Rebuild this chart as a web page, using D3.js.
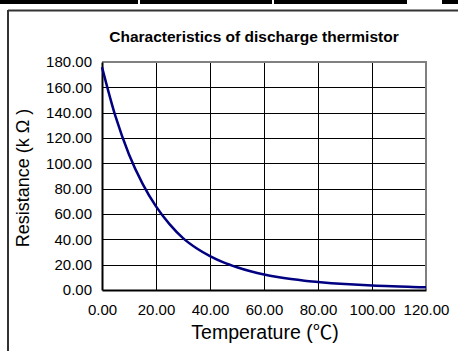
<!DOCTYPE html>
<html><head><meta charset="utf-8">
<script src="https://cdn.jsdelivr.net/npm/d3@7"></script>
<style>
html,body{margin:0;padding:0;background:#fff;}
svg{display:block;font-family:"Liberation Sans",Arial,sans-serif;}
</style></head>
<body>
<svg id="c" width="458" height="351"></svg>
<script>
const title = "Characteristics of discharge thermistor";
const xTitleMain = "Temperature (";
const xTitleUnit = "℃";
const xTitleEnd = ")";
const yTitle = "Resistance (k Ω )";
const temperatures = [0,5,10,15,20,25,30,35,40,45,50,55,60,65,70,75,80,85,90,95,100,105,110,115,120];
const resistance = [176,137,107,84,66,52,41,33,26.8,21.8,18,14.8,12.2,10.2,8.6,7.3,6.3,5.4,4.7,4.1,3.6,3.1,2.7,2.4,2.1];
const xTicks = [0,20,40,60,80,100,120];
const yTicks = [0,20,40,60,80,100,120,140,160,180];

const svg = d3.select("#c");
// top decorative table border remnants
svg.append("rect").attr("x",0).attr("y",0).attr("width",407).attr("height",4).attr("fill","#000");
svg.append("rect").attr("x",138).attr("y",0).attr("width",2).attr("height",4).attr("fill","#fff");
svg.append("rect").attr("x",272).attr("y",0).attr("width",2).attr("height",4).attr("fill","#fff");
svg.append("rect").attr("x",442).attr("y",0).attr("width",16).attr("height",4).attr("fill","#000");
// outer frame
svg.append("line").attr("x1",8).attr("x2",458).attr("y1",10.5).attr("y2",10.5).attr("stroke","#333").attr("stroke-width",2);
svg.append("line").attr("x1",8).attr("x2",8).attr("y1",10).attr("y2",351).attr("stroke","#333").attr("stroke-width",2);

const L=102,R=426,T=62,B=290;
const x = d3.scaleLinear().domain([0,120]).range([L,R]);
const y = d3.scaleLinear().domain([0,180]).range([B,T]);

// gridlines
svg.append("g").selectAll("line").data(yTicks.filter(d=>d>0&&d<180)).join("line")
  .attr("x1",L).attr("x2",R).attr("y1",d=>Math.round(y(d))+0.5).attr("y2",d=>Math.round(y(d))+0.5)
  .attr("stroke","#000").attr("stroke-width",1);
svg.append("g").selectAll("line").data(xTicks.filter(d=>d>0&&d<120)).join("line")
  .attr("y1",T).attr("y2",B).attr("x1",d=>Math.round(x(d))+0.5).attr("x2",d=>Math.round(x(d))+0.5)
  .attr("stroke","#000").attr("stroke-width",1);
// top/right border gray
svg.append("path").attr("d",`M${L},${T} H${R} V${B}`).attr("fill","none").attr("stroke","#808080").attr("stroke-width",2);

// axes
const xAxis = d3.axisBottom(x).tickValues(xTicks).tickFormat(d3.format(".2f")).tickSize(0).tickPadding(14);
const yAxis = d3.axisLeft(y).tickValues(yTicks).tickFormat(d3.format(".2f")).tickSize(0).tickPadding(10);
const gx = svg.append("g").attr("transform",`translate(0,${B})`).call(xAxis);
const gy = svg.append("g").attr("transform",`translate(${L},0)`).call(yAxis);
[gx,gy].forEach(g=>{
  g.attr("font-size",15).attr("font-family","Liberation Sans, Arial, sans-serif");
  g.select(".domain").attr("stroke","#000").attr("stroke-width",2);
  g.selectAll("text").attr("fill","#000");
});

// curve
const line = d3.line().x((d,i)=>x(temperatures[i])).y(d=>y(d)).curve(d3.curveMonotoneX);
svg.append("path").datum(resistance).attr("d",line).attr("fill","none").attr("stroke","#000080").attr("stroke-width",2.5);

// titles
svg.append("text").attr("x",254).attr("y",42).attr("text-anchor","middle").attr("font-size",15.5).attr("font-weight","bold").text(title);
const xt = svg.append("text").attr("x",265).attr("y",339).attr("text-anchor","middle").attr("font-size",19.5);
xt.append("tspan").text(xTitleMain);
xt.append("tspan").attr("font-family","Noto Sans CJK JP").text(xTitleUnit);
xt.append("tspan").text(xTitleEnd);
svg.append("text").attr("transform",`translate(29,178) rotate(-90)`).attr("text-anchor","middle").attr("font-size",18).text(yTitle);
</script>
</body></html>
